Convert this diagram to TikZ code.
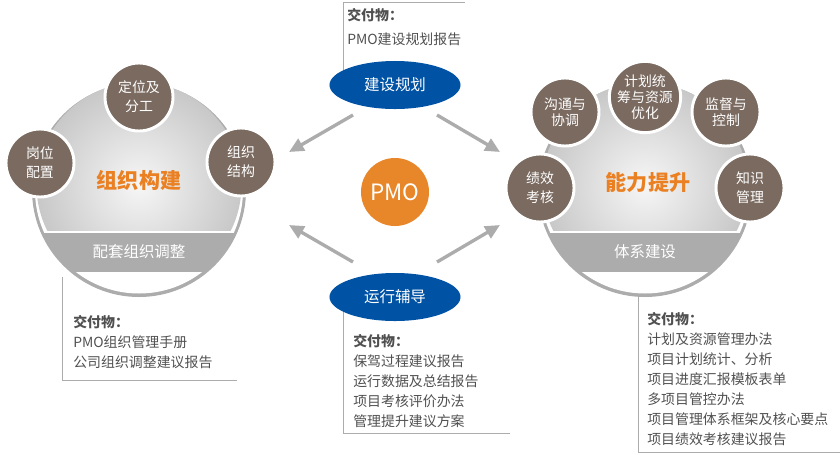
\documentclass[tikz,border=0pt]{standalone}
\usepackage{fontspec}
\setmainfont{Noto Sans CJK SC}
\usepackage{xcolor}
\usepackage{tikz}
\usetikzlibrary{positioning,arrows.meta,shapes.geometric,calc}
\definecolor{pmoorange}{RGB}{232,134,42}
\definecolor{hubtext}{RGB}{234,128,34}
\definecolor{unitbrown}{RGB}{122,106,96}
\definecolor{phaseblue}{RGB}{0,82,164}
\definecolor{ringgray}{RGB}{172,172,172}
\definecolor{shadegray}{RGB}{200,200,200}
\definecolor{shadelight}{RGB}{246,246,246}
\definecolor{delivtext}{RGB}{80,80,80}
\definecolor{linegray}{RGB}{172,172,172}

\begin{document}
\begin{tikzpicture}[
  x=0.025cm, y=-0.025cm,
  unit/.style={circle, draw=white, line width=2.1pt, fill=unitbrown, text=white,
    align=center, minimum size=1.7cm, inner sep=0pt,
    font=\fontsize{9.9}{13.5}\selectfont},
  tight/.style={font=\fontsize{9.9}{11.3}\selectfont},
  hub/.style={text=hubtext, font=\fontsize{15}{18}\selectfont\bfseries},
  band/.style={text=white, font=\fontsize{11}{13}\selectfont},
  phase/.style={ellipse, fill=phaseblue, text=white, minimum width=3.275cm,
    minimum height=1.2cm, inner sep=0pt, font=\fontsize{11}{13}\selectfont},
  deliv/.style={anchor=north west, align=left, inner sep=0pt, text=delivtext,
    font=\fontsize{9.9}{14.2}\selectfont},
  flow/.style={-{Triangle[length=10.5pt, width=9.5pt]}, line width=2.4pt, draw=linegray},
  frame/.style={draw=linegray, line width=0.7pt}
]
\useasboundingbox (0,0) rectangle (840,454);

% deliverable frames, behind everything
\draw[frame] (343,90) -- (343,2) -- (465,2);
\draw[frame] (343,300) -- (343,433) -- (510,433);
\draw[frame] (62,277) -- (62,380) -- (237,380);
\draw[frame] (638,290) -- (638,452) -- (840,452);

% the two discs: ring, shaded top, band, white bottom
\foreach \cx in {139,645} {
  \fill[ringgray] (\cx,190) circle[radius=107];
  \begin{scope}
    \clip (\cx-120,60) rectangle (\cx+120,232);
    \fill[white] (\cx,190) circle[radius=104];
  \end{scope}
  \begin{scope}
    \clip (\cx-120,60) rectangle (\cx+120,230.5);
    \shade[inner color=shadelight, outer color=shadegray] (\cx,185) circle[radius=102.5];
  \end{scope}
  \begin{scope}
    \clip (\cx-120,272) rectangle (\cx+120,310);
    \fill[white] (\cx,190) circle[radius=103.5];
  \end{scope}
}

% left disc
\node[hub] (orgHub) at (139,180) {组织构建};
\node[band] (orgBand) at (139,252) {配套组织调整};
\node[unit] (posts) at (40,163) {岗位\\配置};
\node[unit] (roles) at (139,97) {定位及\\分工};
\node[unit] (structure) at (241,162) {组织\\结构};

% right disc
\node[hub] (capHub) at (648,183) {能力提升};
\node[band] (capBand) at (645,252) {体系建设};
\node[unit, tight] (comm) at (565,112) {沟通与\\协调};
\node[unit, tight] (plan) at (645,97) {计划统\\筹与资源\\优化};
\node[unit, tight] (supervise) at (726,112) {监督与\\控制};
\node[unit] (appraise) at (540,188) {绩效\\考核};
\node[unit] (knowledge) at (750,188) {知识\\管理};

% centre
\node[circle, fill=pmoorange, minimum size=1.7cm, inner sep=0pt, text=white,
  font=\fontsize{16}{18}\selectfont] (pmo) at (395,192) {PMO};
\node[phase] (planning) at (395,85) {建设规划};
\node[phase] (guidance) at (395,297) {运行辅导};

% arrows out to both discs
\coordinate (planL) at (353,115);
\coordinate (planR) at (437,115);
\coordinate (guideL) at (353,262);
\coordinate (guideR) at (437,262);
\coordinate (orgTop) at (289,152);
\coordinate (capTop) at (500,152);
\coordinate (orgLow) at (289,225);
\coordinate (capLow) at (500,225);
\draw[flow] (planL) -- (orgTop);
\draw[flow] (planR) -- (capTop);
\draw[flow] (guideL) -- (orgLow);
\draw[flow] (guideR) -- (capLow);

% deliverables
\node[deliv] (planDeliv) at (347,8) {\textbf{交付物：}\\[3pt]PMO建设规划报告};
\node[deliv] (orgDeliv) at (73,315) {\textbf{交付物：}\\PMO组织管理手册\\公司组织调整建议报告};
\node[deliv] (guideDeliv) at (353,334) {\textbf{交付物：}\\保驾过程建议报告\\运行数据及总结报告\\项目考核评价办法\\管理提升建议方案};
\node[deliv] (capDeliv) at (647,312) {\textbf{交付物：}\\计划及资源管理办法\\项目计划统计、分析\\项目进度汇报模板表单\\多项目管控办法\\项目管理体系框架及核心要点\\项目绩效考核建议报告};
\end{tikzpicture}
\end{document}
